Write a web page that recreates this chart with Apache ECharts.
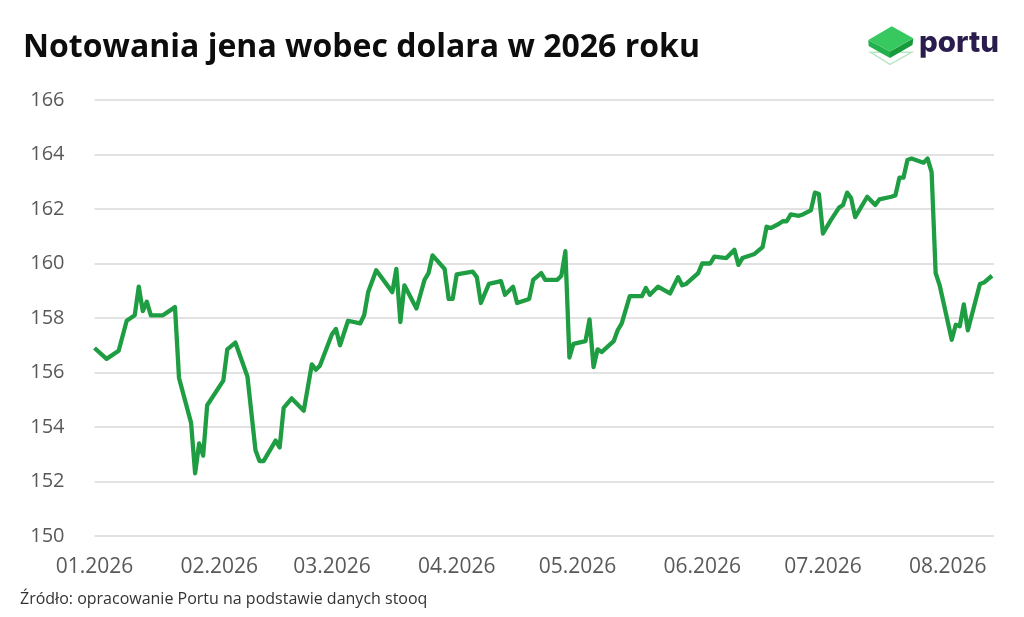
<!DOCTYPE html>
<html><head><meta charset="utf-8">
<script src="https://cdn.jsdelivr.net/npm/echarts@6/dist/echarts.min.js"></script>
<style>html,body{margin:0;padding:0;background:#fff}#c{width:1024px;height:617px}</style>
</head><body><div id="c"></div>
<script>
const dates = ['2026-01-01','2026-01-04','2026-01-07','2026-01-09','2026-01-11','2026-01-12','2026-01-13','2026-01-14','2026-01-15','2026-01-18',
'2026-01-21','2026-01-22','2026-01-25','2026-01-26','2026-01-27','2026-01-28','2026-01-29','2026-02-02','2026-02-03','2026-02-05',
'2026-02-08','2026-02-10','2026-02-11','2026-02-12','2026-02-15','2026-02-16','2026-02-17','2026-02-19','2026-02-22','2026-02-24',
'2026-02-25','2026-02-26','2026-03-01','2026-03-02','2026-03-03','2026-03-05','2026-03-08','2026-03-09','2026-03-10','2026-03-12',
'2026-03-16','2026-03-17','2026-03-18','2026-03-19','2026-03-22','2026-03-24','2026-03-25','2026-03-26','2026-03-29','2026-03-30',
'2026-03-31','2026-04-01','2026-04-05','2026-04-06','2026-04-07','2026-04-09','2026-04-12','2026-04-13','2026-04-15','2026-04-16',
'2026-04-19','2026-04-20','2026-04-22','2026-04-23','2026-04-26','2026-04-27','2026-04-28','2026-04-29','2026-04-30','2026-05-03',
'2026-05-04','2026-05-05','2026-05-06','2026-05-07','2026-05-10','2026-05-11','2026-05-12','2026-05-14','2026-05-17','2026-05-18',
'2026-05-19','2026-05-21','2026-05-24','2026-05-26','2026-05-27','2026-05-28','2026-05-31','2026-06-01','2026-06-03','2026-06-04',
'2026-06-07','2026-06-09','2026-06-10','2026-06-11','2026-06-14','2026-06-16','2026-06-17','2026-06-18','2026-06-20','2026-06-21',
'2026-06-22','2026-06-23','2026-06-25','2026-06-26','2026-06-28','2026-06-29','2026-06-30','2026-07-01','2026-07-03','2026-07-05',
'2026-07-06','2026-07-07','2026-07-08','2026-07-09','2026-07-12','2026-07-14','2026-07-15','2026-07-18','2026-07-19','2026-07-20',
'2026-07-21','2026-07-22','2026-07-23','2026-07-26','2026-07-27','2026-07-28','2026-07-29','2026-07-30','2026-08-02','2026-08-03',
'2026-08-04','2026-08-05','2026-08-06','2026-08-09','2026-08-10','2026-08-12'];
const rates = [156.9,156.5,156.8,157.9,158.1,159.15,158.25,158.6,158.1,158.1,
158.4,155.8,154.15,152.3,153.4,152.95,154.8,155.7,156.85,157.1,
155.85,153.15,152.75,152.75,153.5,153.25,154.7,155.05,154.6,156.3,
156.1,156.25,157.4,157.6,157.0,157.9,157.8,158.1,158.95,159.75,
158.95,159.8,157.85,159.2,158.35,159.4,159.65,160.3,159.8,158.7,
158.7,159.6,159.7,159.5,158.55,159.25,159.35,158.85,159.15,158.55,
158.7,159.4,159.65,159.4,159.4,159.55,160.45,156.55,157.05,157.15,
157.95,156.2,156.85,156.75,157.15,157.55,157.8,158.8,158.8,159.1,
158.85,159.15,158.9,159.5,159.2,159.25,159.65,160.0,160.0,160.25,
160.2,160.5,159.95,160.2,160.35,160.6,161.35,161.3,161.45,161.55,
161.55,161.8,161.75,161.8,161.95,162.6,162.55,161.1,161.6,162.05,
162.15,162.6,162.4,161.7,162.45,162.15,162.35,162.45,162.5,163.15,
163.15,163.8,163.85,163.7,163.85,163.35,159.65,159.2,157.2,157.75,
157.7,158.5,157.55,159.25,159.3,159.55];
const monthTicks = ['2026-01-01','2026-02-01','2026-03-01','2026-04-01','2026-05-01','2026-06-01','2026-07-01','2026-08-01'];
const monthLabels = ['01.2026','02.2026','03.2026','04.2026','05.2026','06.2026','07.2026','08.2026'];
const axisStart = '2026-01-01 00:00';
const axisEnd = '2026-08-12 12:00';

function ts(s){
  const [d, t] = s.split(' ');
  const [y, m, dd] = d.split('-').map(Number);
  let h = 0, mi = 0;
  if (t) { [h, mi] = t.split(':').map(Number); }
  return new Date(y, m - 1, dd, h, mi).getTime();
}
const tickTs = monthTicks.map(ts);
const seriesData = dates.map((d, i) => [ts(d), rates[i]]);

const chart = echarts.init(document.getElementById('c'), null, {renderer: 'canvas'});
chart.setOption({
  backgroundColor: '#ffffff',
  animation: false,
  title: {
    text: 'Notowania jena wobec dolara w 2026 roku',
    left: 18, top: 27,
    textStyle: {fontFamily: 'Open Sans', fontWeight: 'bold', fontSize: 32, color: '#0d0d0d'}
  },
  grid: {left: 94.5, right: 30, top: 100, bottom: 81, containLabel: false},
  xAxis: {
    type: 'value',
    min: ts(axisStart), max: ts(axisEnd),
    axisLine: {show: false},
    axisTick: {show: false},
    splitLine: {show: false},
    axisLabel: {
      customValues: tickTs,
      margin: 21,
      color: '#595959',
      fontFamily: 'Open Sans',
      fontSize: 21,
      formatter: function (v) {
        let best = 0;
        for (let i = 0; i < tickTs.length; i++) {
          if (Math.abs(tickTs[i] - v) < Math.abs(tickTs[best] - v)) best = i;
        }
        return monthLabels[best];
      }
    }
  },
  yAxis: {
    type: 'value',
    min: 150, max: 166, interval: 2,
    axisLine: {show: false},
    axisTick: {show: false},
    splitLine: {lineStyle: {color: '#d9d9d9', width: 1.6}},
    axisLabel: {margin: 30, color: '#595959', fontFamily: 'Open Sans', fontSize: 20}
  },
  series: [{
    type: 'line',
    data: seriesData,
    showSymbol: false,
    symbol: 'none',
    lineStyle: {color: '#1f9d42', width: 4.3, join: 'round'},
    z: 3
  }],
  graphic: [
    {type: 'polygon', shape: {points: [[870.7,52.3],[890,64.3],[911.7,52.3]]}, style: {fill: 'none', stroke: '#b9e6c6', lineWidth: 1.5}},
    {type: 'polygon', shape: {points: [[868.3,40],[890,51.5],[890,58],[868.6,46]]}, style: {fill: '#22b14c'}},
    {type: 'polygon', shape: {points: [[890,51.5],[913.3,38.3],[912.5,45],[890,58]]}, style: {fill: '#169a3c'}},
    {type: 'polygon', shape: {points: [[868.3,40],[891.7,26.2],[913.3,38.3],[890,51.5]]}, style: {fill: '#37c960'}},
    {type: 'text', left: 919, top: 28, style: {text: 'portu', fontFamily: 'Inter', fontWeight: 800, fontSize: 29.5, fill: '#2a1d4d'}},
    {type: 'text', left: 20, top: 591, style: {text: 'Źródło: opracowanie Portu na podstawie danych stooq', fontFamily: 'Open Sans', fontSize: 16, fill: '#333333'}}
  ]
});
</script>
</body></html>
